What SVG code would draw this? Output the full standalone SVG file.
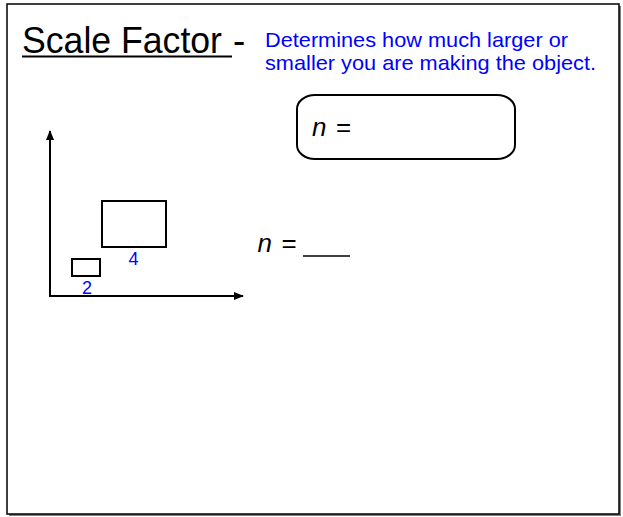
<svg xmlns="http://www.w3.org/2000/svg" width="623" height="517" viewBox="0 0 623 517">
<defs>
<style>
.ln{stroke:#000;stroke-width:2;fill:none}
.t{font-family:"Liberation Sans",Arial,sans-serif}
.blue{fill:#0000ff}
.eq{font-size:26px}
.it{font-style:italic}
</style>
<marker id="ah" viewBox="0 0 10 10" refX="9" refY="5" markerWidth="5" markerHeight="5" orient="auto"><path d="M0,1 L10,5 L0,9 z" fill="#000"/></marker>
</defs>
<rect x="0" y="0" width="623" height="517" fill="#fff"/>
<g id="page">
<rect x="9" y="6" width="612" height="510" fill="#808080"/>
<rect x="7" y="4" width="612" height="510" fill="#fff" stroke="#000" stroke-width="1.5"/>
</g>
<g id="title">
<text class="t" x="22" y="52.5" font-size="37" textLength="200" lengthAdjust="spacingAndGlyphs">Scale Factor</text>
<line x1="22" y1="56.5" x2="232" y2="56.5" stroke="#000" stroke-width="2"/>
<text class="t" x="233" y="52.5" font-size="37">-</text>
</g>
<g id="definition">
<text class="t blue" x="265" y="46.5" font-size="21" textLength="303" lengthAdjust="spacingAndGlyphs">Determines how much larger or</text>
<text class="t blue" x="265" y="70" font-size="21" textLength="331" lengthAdjust="spacingAndGlyphs">smaller you are making the object.</text>
</g>
<g id="formula-box">
<rect x="297" y="95" width="218" height="64" rx="18" ry="14" class="ln"/>
<text class="t eq it" x="312" y="136">n</text>
<text class="t eq" x="336" y="136">=</text>
</g>
<g id="connectors">
<line x1="50" y1="296" x2="50" y2="131" class="ln" marker-end="url(#ah)"/>
<line x1="49" y1="296" x2="243" y2="296" class="ln" marker-end="url(#ah)"/>
</g>
<g id="big-rect">
<rect x="102" y="201" width="64" height="46" class="ln"/>
<text class="t blue" x="133.5" y="265" font-size="18" text-anchor="middle">4</text>
</g>
<g id="small-rect">
<rect x="72" y="259" width="28" height="17" class="ln"/>
<text class="t blue" x="87" y="294" font-size="18" text-anchor="middle">2</text>
</g>
<g id="answer">
<text class="t eq it" x="257.5" y="251.5">n</text>
<text class="t eq" x="281.5" y="251.5">=</text>
<line x1="303" y1="256" x2="350" y2="256" stroke="#000" stroke-width="1.5"/>
</g>
</svg>
